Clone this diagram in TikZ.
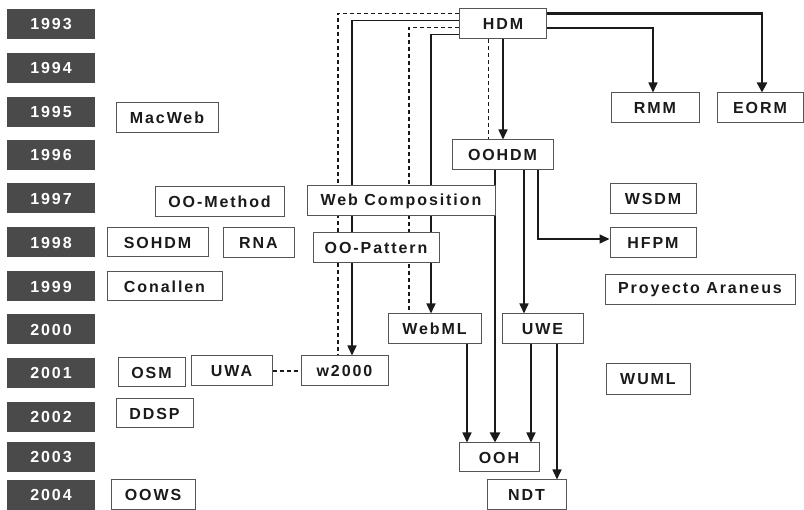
\documentclass[tikz,border=0pt]{standalone}
\usepackage{fontspec}
\setmainfont{Liberation Sans}[LetterSpace=12]
\usetikzlibrary{arrows.meta,backgrounds}
\definecolor{yearbg}{HTML}{4A4A4A}
\definecolor{boxline}{HTML}{555555}
\definecolor{linecol}{HTML}{1A1A1A}
\tikzset{
  year/.style={fill=yearbg, draw=none, text=white, font=\fontsize{16}{18}\selectfont\bfseries,
    minimum width=88pt, minimum height=30pt, inner sep=0pt},
  mbox/.style={fill=white, draw=boxline, line width=1pt, text=linecol,
    font=\fontsize{16}{18}\selectfont\bfseries, minimum height=30pt, inner sep=0pt},
  conn/.style={draw=linecol, line width=1.6pt},
  arr/.style={conn, -{Triangle[width=9pt,length=10pt]}},
  thickarr/.style={draw=linecol, line width=2.4pt, -{Triangle[width=10pt,length=10pt]}},
  dconn/.style={draw=linecol, line width=1.5pt, dash pattern=on 4pt off 3pt}
}
\begin{document}
\begin{tikzpicture}[x=1pt,y=-1pt]
\useasboundingbox (0,0) rectangle (804,510);
% years
\node[year] (y1993) at (51,24) {1993};
\node[year] (y1994) at (51,68) {1994};
\node[year] (y1995) at (51,112) {1995};
\node[year] (y1996) at (51,155) {1996};
\node[year] (y1997) at (51,198.5) {1997};
\node[year] (y1998) at (51,242.5) {1998};
\node[year] (y1999) at (51,286.5) {1999};
\node[year] (y2000) at (51,329.5) {2000};
\node[year] (y2001) at (51,373) {2001};
\node[year] (y2002) at (51,417) {2002};
\node[year] (y2003) at (51,457.5) {2003};
\node[year] (y2004) at (51,495) {2004};
% methods
\node[mbox, minimum width=102pt] (macweb) at (167,118) {MacWeb};
\node[mbox, minimum width=129pt] (oomethod) at (219.5,202) {OO-Method};
\node[mbox, minimum width=101pt, minimum height=29pt] (sohdm) at (157.5,242.5) {SOHDM};
\node[mbox, minimum width=71pt] (rna) at (258.5,243) {RNA};
\node[mbox, minimum width=115pt, minimum height=29pt] (conallen) at (164.5,286.5) {Conallen};
\node[mbox, minimum width=67pt, minimum height=29pt] (osm) at (151.5,372.5) {OSM};
\node[mbox, minimum width=81pt] (uwa) at (231.5,371) {UWA};
\node[mbox, minimum width=77pt, minimum height=29pt] (ddsp) at (154.5,413.5) {DDSP};
\node[mbox, minimum width=84pt] (oows) at (153,495) {OOWS};
\node[mbox, minimum width=87pt] (hdm) at (503,24) {HDM};
\node[mbox, minimum width=101pt] (oohdm) at (502.5,155) {OOHDM};
\node[mbox, minimum width=188pt] (webcomp) at (401,201) {Web Composition};
\node[mbox, minimum width=126pt] (oopattern) at (376,248) {OO-Pattern};
\node[mbox, minimum width=93pt] (webml) at (434.5,329) {WebML};
\node[mbox, minimum width=81pt] (uwe) at (542.5,329) {UWE};
\node[mbox, minimum width=87pt] (w2000) at (344.5,371) {w2000};
\node[mbox, minimum width=80pt, minimum height=29pt] (ooh) at (499,457.5) {OOH};
\node[mbox, minimum width=79pt] (ndt) at (526.5,495) {NDT};
\node[mbox, minimum width=88pt] (rmm) at (655,108) {RMM};
\node[mbox, minimum width=86pt] (eorm) at (760,108) {EORM};
\node[mbox, minimum width=86pt] (wsdm) at (653,199) {WSDM};
\node[mbox, minimum width=86pt] (hfpm) at (653,243) {HFPM};
\node[mbox, minimum width=190pt] (araneus) at (700,290) {Proyecto Araneus};
\node[mbox, minimum width=84pt, minimum height=31pt] (wuml) at (648,379.5) {WUML};
% helper coordinates
\path ([xshift=-14.5pt]hdm.south) coordinate (hd1);
\path (hdm.south) coordinate (hd2);
\path ([xshift=-7.5pt]oohdm.south) coordinate (oh1);
\path ([xshift=21.5pt]oohdm.south) coordinate (oh2);
\path ([xshift=35.5pt]oohdm.south) coordinate (oh3);
\path ([xshift=32.5pt]webml.south) coordinate (wm1);
\path ([xshift=-11.5pt]uwe.south) coordinate (ue1);
\path ([xshift=14.5pt]uwe.south) coordinate (ue2);
\begin{pgfonlayer}{background}
% HDM left side
\draw[dconn] ([yshift=10.5pt]hdm.west) -| ([xshift=-6.5pt]w2000.north);
\draw[arr] ([yshift=3.5pt]hdm.west) -| ([xshift=7.5pt]w2000.north);
\draw[dconn] ([yshift=-3.5pt]hdm.west) -| ([xshift=-25.5pt]webml.north);
\draw[arr] ([yshift=-10.5pt]hdm.west) -| ([xshift=-3.5pt]webml.north);
% HDM down
\draw[dconn] (hd1) -- (hd1 |- oohdm.north);
\draw[arr] (hd2) -- (hd2 |- oohdm.north);
% HDM right side
\draw[thickarr] ([yshift=10.5pt]hdm.east) -| ([xshift=2pt]eorm.north);
\draw[arr] ([yshift=-4pt]hdm.east) -| ([xshift=-2pt]rmm.north);
% OOHDM
\draw[thickarr] (oh1) -- (oh1 |- ooh.north);
\draw[arr] (oh2) -- (oh2 |- uwe.north);
\draw[arr] (oh3) |- ([yshift=4pt]hfpm.west);
% WebML, UWE
\draw[arr] (wm1) -- (wm1 |- ooh.north);
\draw[arr] (ue1) -- (ue1 |- ooh.north);
\draw[arr] (ue2) -- (ue2 |- ndt.north);
% UWA - w2000
\draw[dconn] (uwa.east) -- (uwa.east -| w2000.west);
\end{pgfonlayer}
\end{tikzpicture}
\end{document}
